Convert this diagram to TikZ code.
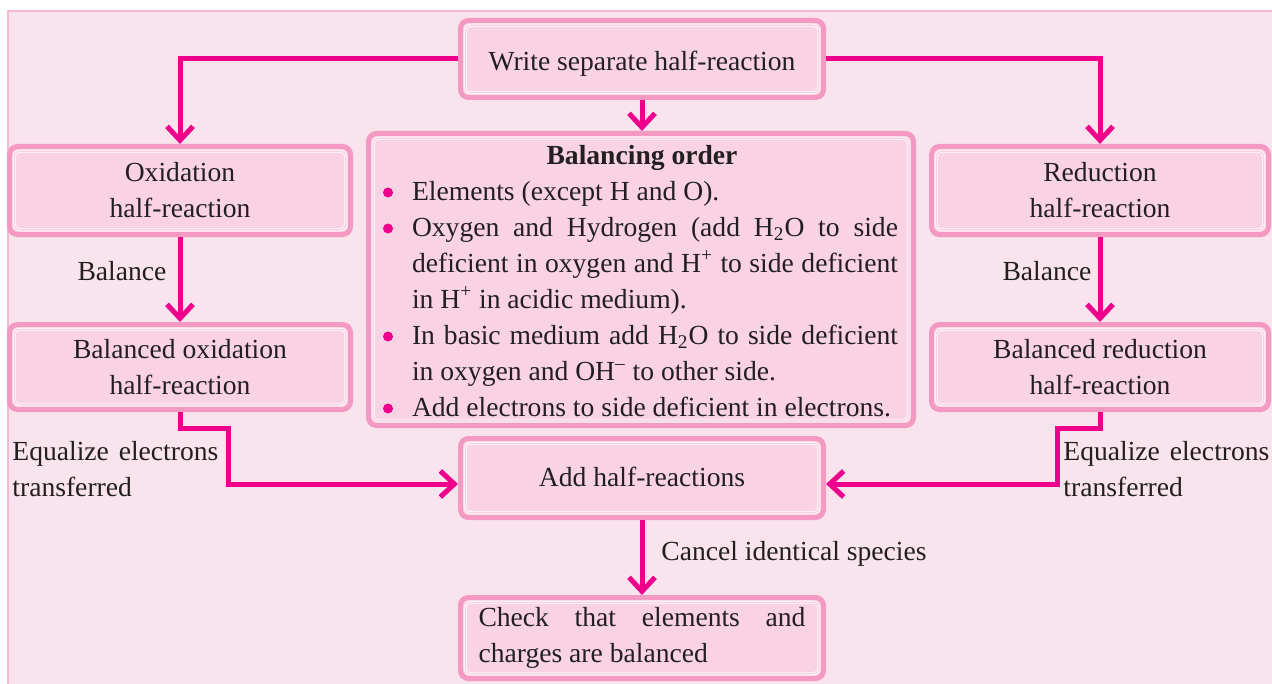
\documentclass[tikz,border=0pt]{standalone}
\usepackage{fontspec}
\setmainfont{Liberation Serif}
\usetikzlibrary{arrows.meta}
\definecolor{bgpink}{HTML}{F9E4ED}
\definecolor{framepink}{HTML}{F6B8D0}
\definecolor{boxfill}{HTML}{F9D3E4}
\definecolor{boxline}{HTML}{F49AC2}
\definecolor{mag}{HTML}{EC008C}
\definecolor{ink}{HTML}{231F20}
\newcommand\bul{\leavevmode\llap{\tikz[baseline=-0.62ex]\fill[mag](0,0)circle(2.5pt);\hspace{9.5pt}}}
\newcommand\innerline[1]{\draw[white, line width=0.4pt, double=boxfill, double distance=0.7pt, rounded corners=3pt] ([shift={(3.6pt,-3.6pt)}]#1.north west) rectangle ([shift={(-3.6pt,3.6pt)}]#1.south east);}
\tikzset{
 pinkbox/.style={draw=boxline, fill=boxfill, line width=2.5pt, rounded corners=4pt, inner sep=0pt, text=ink, align=center, font=\fontsize{13.8}{18}\selectfont},
 arr/.style={draw=mag, line width=2.5pt, -{Straight Barb[length=7pt,width=13pt]}},
 lbl/.style={text=ink, inner sep=0pt, font=\fontsize{13.8}{18}\selectfont},
}
\begin{document}
\begin{tikzpicture}[x=0.5pt,y=-0.5pt]
\useasboundingbox (0,0) rectangle (1272,684);
\fill[bgpink] (7,10) rectangle (1272,684);
\draw[framepink, line width=1pt] (8,684) -- (8,11) -- (1272,11);

\node[pinkbox, minimum width=181.5pt, minimum height=38.5pt, text height=14.5pt, text depth=3pt] (write) at (642,59) {Write separate half-reaction};
\node[pinkbox, minimum width=170.5pt, minimum height=44pt] (ox) at (180,190.5) {Oxidation\\half-reaction};
\node[pinkbox, minimum width=272.5pt, minimum height=146pt] (bal) at (641,279.5) {};
\node[pinkbox, minimum width=168.5pt, minimum height=44pt] (red) at (1100,190.5) {Reduction\\half-reaction};
\node[pinkbox, minimum width=170.5pt, minimum height=42.5pt] (oxb) at (180,367) {Balanced oxidation\\half-reaction};
\node[pinkbox, minimum width=168.5pt, minimum height=42.5pt] (redb) at (1100,367) {Balanced reduction\\half-reaction};
\node[pinkbox, minimum width=181.5pt, minimum height=39.5pt, text height=11.5pt, text depth=3pt] (add) at (642,478) {Add half-reactions};
\node[pinkbox, minimum width=181.5pt, minimum height=40.5pt, text width=163.5pt, align=justify] (check) at (642,638) {Check that elements and charges are balanced};
\foreach \n in {write,ox,bal,red,oxb,redb,add,check}{\innerline{\n}}

\node[lbl, text width=243pt, align=justify] (balt) at (655,281) {\parindent=0pt\makebox[\linewidth]{\hspace*{-13pt}\bfseries Balancing order}\par
\bul Elements (except H and O).\par
\bul Oxygen and Hydrogen (add H\textsubscript{2}O to side\linebreak deficient in oxygen and H\textsuperscript{+} to side deficient\linebreak in H\textsuperscript{+} in acidic medium).\par
\bul In basic medium add H\textsubscript{2}O to side deficient\linebreak in oxygen and OH\textsuperscript{–} to other side.\par
\bul Add electrons to side deficient in electrons.};

\node[lbl] (bl1) at (122,271) {Balance};
\node[lbl] (bl2) at (1047,271) {Balance};
\node[lbl, anchor=west] (cl) at (661,554) {Cancel identical species};
\node[lbl, text width=103pt, align=justify, anchor=west] (el1) at (12,469) {Equalize electrons transferred};
\node[lbl, text width=103pt, align=justify, anchor=west] (el2) at (1063,469) {Equalize electrons transferred};

\coordinate (lk) at (228,428);
\coordinate (rk) at (1057,428);
\draw[arr] (write.west) -| (ox.north);
\draw[arr] (write.east) -| (red.north);
\draw[arr] (write.south) -- (write.south |- bal.north);
\draw[arr] (ox.south) -- (oxb.north);
\draw[arr] (red.south) -- (redb.north);
\draw[arr] (oxb.south) |- (lk) |- ([yshift=-3pt]add.west);
\draw[arr] (redb.south) |- (rk) |- ([yshift=-3pt]add.east);
\draw[arr] (add.south) -- (check.north);
\end{tikzpicture}
\end{document}
